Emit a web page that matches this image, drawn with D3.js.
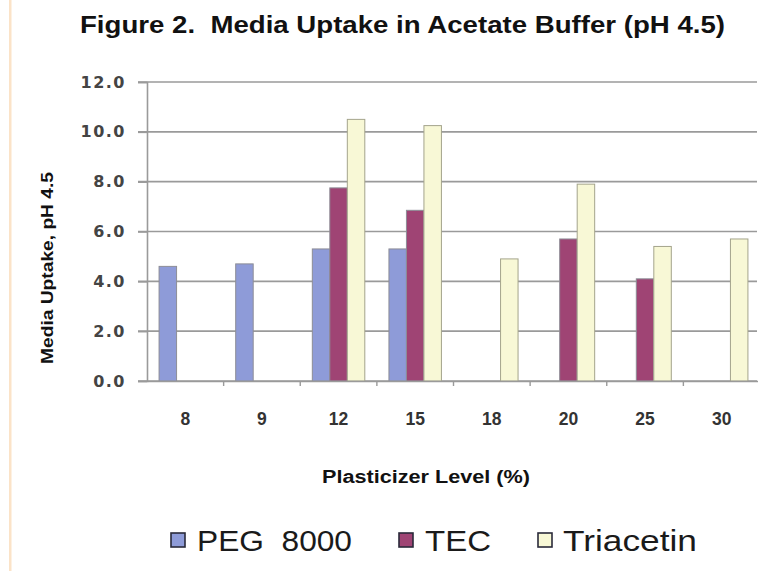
<!DOCTYPE html>
<html>
<head>
<meta charset="utf-8">
<script src="https://cdn.jsdelivr.net/npm/d3@7"></script>
<style>
  html, body { margin: 0; padding: 0; background: #fff; }
  svg { display: block; }
</style>
</head>
<body>
<svg id="chart" width="758" height="571"></svg>
<script>
const categories = ["8", "9", "12", "15", "18", "20", "25", "30"];
const seriesNames = ["PEG 8000", "TEC", "Triacetin"];
const pegValues = [4.6, 4.7, 5.3, 5.3, null, null, null, null];
const tecValues = [null, null, 7.75, 6.85, null, 5.7, 4.1, null];
const triacetinValues = [null, null, 10.5, 10.25, 4.9, 7.9, 5.4, 5.7];
const yTicks = [0, 2, 4, 6, 8, 10, 12];
const seriesColors = ["#8e9bd8", "#9f4474", "#f8f8d6"];

const seriesValues = [pegValues, tecValues, triacetinValues];

const svg = d3.select("#chart");

// faint orange margin line at left
svg.append("rect").attr("x", 9).attr("y", 0).attr("width", 2.5).attr("height", 571)
  .attr("fill", "#fbe3c8");

const plotLeft = 147, plotRight = 760, plotTop = 82, plotBottom = 381;

const x0 = d3.scaleBand().domain(categories).range([plotLeft, plotRight]).padding(0);
const x1 = d3.scaleBand().domain(seriesNames).range([0, x0.bandwidth()])
  .paddingInner(0).paddingOuter(0.69);
const y = d3.scaleLinear().domain([0, 12]).range([plotBottom, plotTop]);

// gridlines
svg.append("g").selectAll("line").data(yTicks).join("line")
  .attr("x1", plotLeft - 9).attr("x2", 757)
  .attr("y1", d => y(d)).attr("y2", d => y(d))
  .attr("stroke", "#9a9a9a").attr("stroke-width", 1.6);

// y axis
const yAxis = svg.append("g").attr("transform", `translate(${plotLeft},0)`)
  .call(d3.axisLeft(y).tickValues(yTicks).tickFormat(d3.format(".1f")).tickSize(9).tickPadding(12));
yAxis.select(".domain").attr("stroke", "#9a9a9a").attr("stroke-width", 1.6);
yAxis.selectAll(".tick line").attr("stroke", "#9a9a9a").attr("stroke-width", 1.6);
yAxis.selectAll("text")
  .attr("font-family", "DejaVu Sans, sans-serif").attr("font-weight", "bold")
  .attr("font-size", 16).attr("fill", "#444").style("letter-spacing", "1.5px");

// bars
const bars = [];
categories.forEach((c, i) => {
  seriesNames.forEach((s, j) => {
    const v = seriesValues[j][i];
    if (v != null) bars.push({c, s, v, j});
  });
});
svg.append("g").selectAll("rect").data(bars).join("rect")
  .attr("x", d => x0(d.c) + x1(d.s))
  .attr("y", d => y(d.v))
  .attr("width", x1.bandwidth())
  .attr("height", d => y(0) - y(d.v))
  .attr("fill", d => seriesColors[d.j])
  .attr("stroke", d => d.j === 2 ? "#a4a48c" : "#8d8d96")
  .attr("stroke-width", 1);

// x axis
const xAxis = svg.append("g").attr("transform", `translate(0,${plotBottom})`)
  .call(d3.axisBottom(x0).tickSize(0).tickPadding(32));
xAxis.select(".domain").attr("stroke", "#9a9a9a").attr("stroke-width", 1.6);
xAxis.selectAll("text")
  .attr("font-family", "Liberation Sans, Arial, sans-serif").attr("font-weight", "bold")
  .attr("font-size", 17.5).attr("fill", "#333");
// category boundary ticks
svg.append("g").selectAll("line").data(categories).join("line")
  .attr("x1", d => x0(d) + x0.bandwidth()).attr("x2", d => x0(d) + x0.bandwidth())
  .attr("y1", plotBottom).attr("y2", plotBottom + 5)
  .attr("stroke", "#9a9a9a").attr("stroke-width", 1.4);

// title
svg.append("text").attr("x", 80).attr("y", 33)
  .attr("font-family", "Liberation Sans, Arial, sans-serif").attr("font-weight", "bold")
  .attr("font-size", 23.5).attr("fill", "#111")
  .attr("textLength", 645).attr("lengthAdjust", "spacingAndGlyphs")
  .style("white-space", "pre")
  .text("Figure 2.  Media Uptake in Acetate Buffer (pH 4.5)");

// y axis title
svg.append("text").attr("transform", "translate(53,268) rotate(-90)")
  .attr("text-anchor", "middle")
  .attr("font-family", "Liberation Sans, Arial, sans-serif").attr("font-weight", "bold")
  .attr("font-size", 16).attr("fill", "#111")
  .attr("textLength", 192).attr("lengthAdjust", "spacingAndGlyphs")
  .text("Media Uptake, pH 4.5");

// x axis title
svg.append("text").attr("x", 426).attr("y", 483).attr("text-anchor", "middle")
  .attr("font-family", "Liberation Sans, Arial, sans-serif").attr("font-weight", "bold")
  .attr("font-size", 17.5).attr("fill", "#111")
  .attr("textLength", 208).attr("lengthAdjust", "spacingAndGlyphs")
  .text("Plasticizer Level (%)");

// legend
const legendItems = [
  {name: "PEG  8000", sx: 171, tx: 197, tl: 155},
  {name: "TEC", sx: 399, tx: 425, tl: 66},
  {name: "Triacetin", sx: 538, tx: 563, tl: 134}
];
const lg = svg.append("g");
legendItems.forEach((d, i) => {
  lg.append("rect").attr("x", d.sx).attr("y", 533).attr("width", 14).attr("height", 14)
    .attr("fill", seriesColors[i]).attr("stroke", "#2a2a3a").attr("stroke-width", 1.6);
  lg.append("text").attr("x", d.tx).attr("y", 551)
    .attr("font-family", "Liberation Sans, Arial, sans-serif")
    .attr("font-size", 29).attr("fill", "#1a1a1a")
    .attr("textLength", d.tl).attr("lengthAdjust", "spacingAndGlyphs")
    .style("white-space", "pre")
    .text(d.name);
});
</script>
</body>
</html>
